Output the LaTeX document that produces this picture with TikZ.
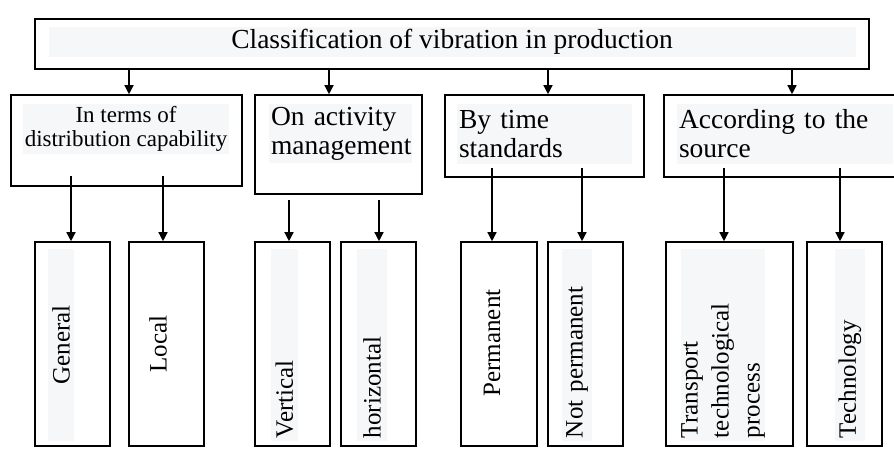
\documentclass[tikz,border=0pt]{standalone}
\usepackage{fontspec}
\setmainfont{Liberation Serif}
\usetikzlibrary{arrows.meta}
\definecolor{txtbg}{RGB}{246,247,249}

\begin{document}
\begin{tikzpicture}[x=1pt, y=-1pt,
  box/.style={draw, line width=1.6pt, inner sep=0pt},
  arr/.style={line width=1.4pt, -{Triangle[width=9pt,length=9pt]}},
  hl/.style={fill=txtbg, inner sep=2pt},
  leaf/.style={rotate=90, inner xsep=3pt, inner ysep=0pt, font=\fontsize{25}{31}\selectfont},
]
  \useasboundingbox (0,0) rectangle (894,458);
  \clip (0,0) rectangle (894,458);
  % frames
  \node[box, minimum width=834pt, minimum height=50pt] (top) at (452,44) {};
  \node[box, minimum width=231pt, minimum height=91pt] (s1) at (126.5,140.5) {};
  \node[box, minimum width=167pt, minimum height=99pt] (s2) at (338.5,144.5) {};
  \node[box, minimum width=199pt, minimum height=82pt] (s3) at (544.5,136) {};
  \node[box, minimum width=256pt, minimum height=82pt] (s4) at (792,136) {};
  \foreach \name/\cx/\w in {l1/72.5/75, l2/166.5/75, l3/292.5/75, l4/378.5/75,
                            l5/499/76, l6/585.5/75, l7/729.5/127, l8/844.5/75}
    \node[box, minimum width=\w pt, minimum height=204pt] (\name) at (\cx,344) {};
  % texts
  \node[hl, minimum width=807pt, minimum height=28pt, font=\fontsize{27.5}{29}\selectfont]
    (ttop) at (452,42) {Classification of vibration in production};
  \node[hl, minimum width=206pt, minimum height=50pt, align=center,
    font=\fontsize{23}{24}\selectfont] (t1) at (126,129) {In terms of\\distribution capability};
  \node[hl, text width=139pt, minimum height=59pt, align=left,
    font=\fontsize{27.5}{29}\selectfont] (t2) at (340.5,133.5) {On activity\\management};
  \node[hl, text width=171pt, minimum height=60pt, align=left,
    font=\fontsize{27.5}{29}\selectfont] (t3) at (544.5,134) {By time\\standards};
  \node[hl, text width=212pt, minimum height=60pt, align=left,
    font=\fontsize{27.5}{29}\selectfont] (t4) at (785,134) {According to the\\source};
  \node[leaf, fill=txtbg, minimum width=192pt, minimum height=26pt, text width=186pt,
    align=center] (tl1) at (61,345) {General};
  \node[leaf, minimum width=192pt, text width=186pt, align=center] (tl2) at (158,344) {Local};
  \node[leaf, fill=txtbg, minimum width=192pt, minimum height=27pt, text width=186pt,
    align=left] (tl3) at (284.5,345) {Vertical};
  \node[leaf, fill=txtbg, minimum width=192pt, minimum height=30pt, text width=186pt,
    align=left] (tl4) at (372,345) {horizontal};
  \node[leaf, minimum width=192pt, text width=186pt, align=center] (tl5) at (492,343) {Permanent};
  \node[leaf, fill=txtbg, minimum width=192pt, minimum height=30pt, text width=186pt,
    align=left] (tl6) at (577,345) {Not permanent};
  \node[leaf, fill=txtbg, minimum width=192pt, minimum height=84pt, text width=186pt,
    align=left] (tl7) at (723,345) {Transport\\technological\\process};
  \node[leaf, fill=txtbg, minimum width=192pt, minimum height=30pt, text width=186pt,
    align=left] (tl8) at (850,345) {Technology};
  % arrows
  \foreach \sub/\ax in {s1/129, s2/329, s3/548, s4/792}
    \draw[arr] (top.south -| \ax,0) -- (\sub.north -| \ax,0);
  \foreach \sub/\leaf/\ax/\dy in {s1/l1/71/11, s1/l2/163/11, s2/l3/289/-5, s2/l4/379/-5,
                                  s3/l5/492/10, s3/l6/582/10, s4/l7/724/10, s4/l8/840/10}
    \draw[arr] ([yshift=\dy pt]\sub.south -| \ax,0) -- (\leaf.north -| \ax,0);
\end{tikzpicture}
\end{document}
